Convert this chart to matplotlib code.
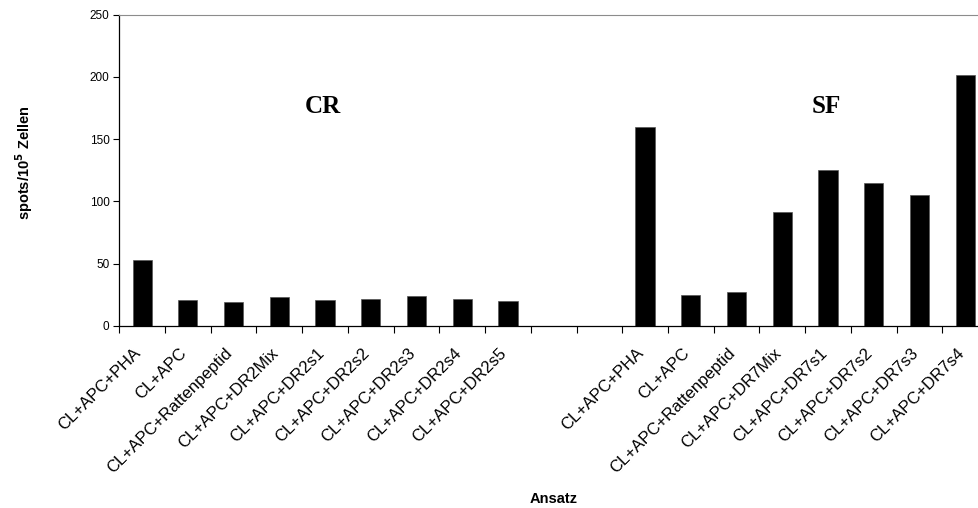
import numpy as np
import matplotlib.pyplot as plt
import matplotlib.transforms as mtransforms
from matplotlib.ticker import FixedLocator

# data
cr_labels = ["CL+APC+PHA", "CL+APC", "CL+APC+Rattenpeptid", "CL+APC+DR2Mix",
             "CL+APC+DR2s1", "CL+APC+DR2s2", "CL+APC+DR2s3", "CL+APC+DR2s4",
             "CL+APC+DR2s5"]
cr_values = [53, 21, 19.5, 23, 21, 22, 24, 22, 20]

sf_labels = ["CL+APC+PHA", "CL+APC", "CL+APC+Rattenpeptid", "CL+APC+DR7Mix",
             "CL+APC+DR7s1", "CL+APC+DR7s2", "CL+APC+DR7s3", "CL+APC+DR7s4"]
sf_values = [160, 24.5, 27.5, 91.5, 125, 115, 105, 201.5]

n_gap = 2


def main():
    plt.rcParams['font.family'] = ['Liberation Sans', 'DejaVu Sans']

    labels = cr_labels + [""] * n_gap + sf_labels
    values = cr_values + [0] * n_gap + sf_values
    x = np.arange(len(labels))

    fig = plt.figure(figsize=(9.79, 5.08), dpi=100)
    # plot area runs a little past the right edge, as in the original
    ax = fig.add_axes([119.3 / 979, 1 - 326 / 508, (988 - 119.3) / 979, (326 - 14.7) / 508])

    mask = np.array([lab != "" for lab in labels])
    ax.bar(x[mask], np.array(values)[mask], width=0.42, color='black',
           edgecolor='#555555', linewidth=0.5)

    ax.set_xlim(-0.5, len(labels) - 0.5)
    ax.set_ylim(0, 250)
    ax.set_yticks(np.arange(0, 251, 50))
    ax.tick_params(axis='y', labelsize=8.5, length=4, width=0.8, pad=3)

    ax.set_xticks(x)
    ax.set_xticklabels(labels, rotation=45, ha='right', va='center',
                       rotation_mode='anchor', fontsize=12)
    ax.tick_params(axis='x', which='major', length=0, pad=18)
    offset = mtransforms.ScaledTranslation(-3.5 / 100, 0, fig.dpi_scale_trans)
    for lab in ax.get_xticklabels():
        lab.set_transform(lab.get_transform() + offset)
    ax.xaxis.set_minor_locator(FixedLocator(np.arange(-0.5, len(labels), 1.0)))
    ax.tick_params(axis='x', which='minor', length=5, width=0.8, direction='out')

    ax.spines['right'].set_visible(False)
    ax.spines['top'].set_color('#8c8c8c')
    ax.spines['left'].set_linewidth(0.9)
    ax.spines['bottom'].set_linewidth(0.9)

    ax.text(3.95, 176, "CR", fontsize=18, fontweight='bold', family='Liberation Serif',
            ha='center', va='center')
    ax.text(14.97, 176, "SF", fontsize=18, fontweight='bold', family='Liberation Serif',
            ha='center', va='center')

    fig.text(24 / 979, 1 - 163 / 508, "spots/10$^\\mathbf{5}$ Zellen", rotation=90,
             ha='center', va='center', fontsize=10.5, fontweight='bold')
    fig.text(553.6 / 979, 1 - 499 / 508, "Ansatz", ha='center', va='center',
             fontsize=10.5, fontweight='bold')

    fig.savefig("out.png", dpi=100)
    plt.close(fig)


if __name__ == "__main__":
    main()
